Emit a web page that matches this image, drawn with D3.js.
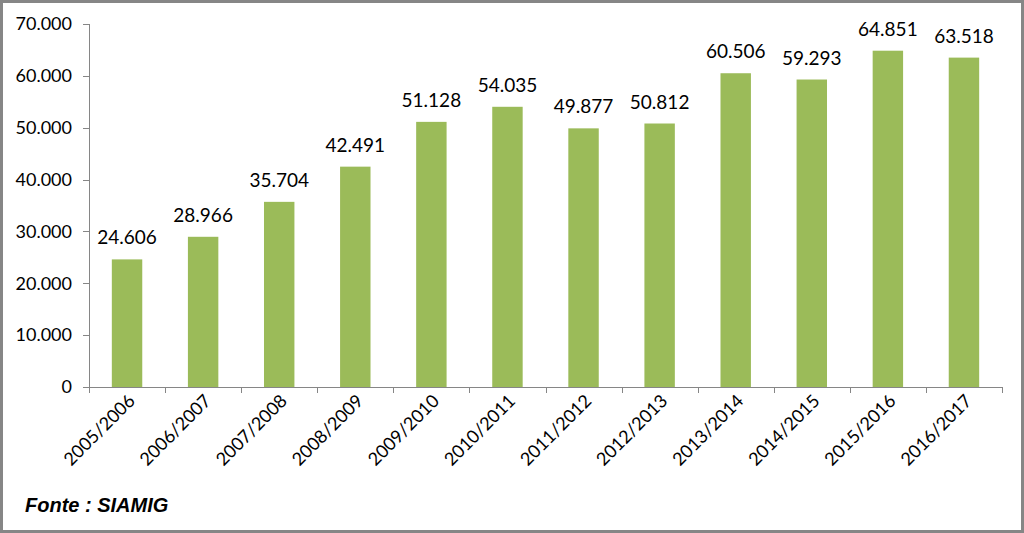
<!DOCTYPE html>
<html>
<head>
<meta charset="utf-8">
<script src="https://cdn.jsdelivr.net/npm/d3@7"></script>
<style>
  html, body { margin: 0; padding: 0; background: #fff; }
  svg { display: block; }
  text { font-family: Lato, "Open Sans", sans-serif; fill: #000; }
</style>
</head>
<body>
<div id="chart"></div>
<script>
'use strict';

// data
var seasons = ['2005/2006', '2006/2007', '2007/2008', '2008/2009', '2009/2010', '2010/2011',
               '2011/2012', '2012/2013', '2013/2014', '2014/2015', '2015/2016', '2016/2017'];
var values = [24606, 28966, 35704, 42491, 51128, 54035, 49877, 50812, 60506, 59293, 64851, 63518];
var yTicks = [0, 10000, 20000, 30000, 40000, 50000, 60000, 70000];

var outerWidth = 1024,
    outerHeight = 533,
    margin = {left: 89, right: 22, top: 24, bottom: 146},
    width = outerWidth - margin.left - margin.right,
    height = outerHeight - margin.top - margin.bottom;

var fmt = function (d) {
    return d === 0 ? '0' : d3.format(',')(d).replace(/,/g, '.');
};

var svg = d3.select('#chart').append('svg')
    .attr('width', outerWidth)
    .attr('height', outerHeight);

// outer frame
svg.append('rect')
    .attr('x', 1.5).attr('y', 1.5)
    .attr('width', outerWidth - 3).attr('height', outerHeight - 3)
    .attr('fill', '#fff')
    .attr('stroke', '#868686')
    .attr('stroke-width', 3);

var g = svg.append('g')
    .attr('transform', 'translate(' + margin.left + ',' + margin.top + ')');

var xScale = d3.scaleBand().domain(seasons).range([0, width]).paddingInner(0.6).paddingOuter(0.3);
var yScale = d3.scaleLinear().domain([0, 70000]).range([height, 0]);

// y axis
var yAxis = g.append('g').attr('class', 'yAxis');
yAxis.append('line')
    .attr('x1', 0.5).attr('x2', 0.5)
    .attr('y1', 0).attr('y2', height)
    .attr('stroke', '#868686');
yAxis.selectAll('line.tick').data(yTicks).enter().append('line')
    .attr('class', 'tick')
    .attr('x1', -6).attr('x2', 0)
    .attr('y1', function (d) { return Math.round(yScale(d)) + 0.5; })
    .attr('y2', function (d) { return Math.round(yScale(d)) + 0.5; })
    .attr('stroke', '#868686');
yAxis.selectAll('text').data(yTicks).enter().append('text')
    .attr('x', -17)
    .attr('y', function (d) { return yScale(d); })
    .attr('dy', '0.35em')
    .style('text-anchor', 'end')
    .style('font-size', '18px')
    .text(fmt);

// bars
g.selectAll('rect.bar').data(values).enter().append('rect')
    .attr('class', 'bar')
    .attr('x', function (d, i) { return xScale(seasons[i]); })
    .attr('y', function (d) { return yScale(d); })
    .attr('width', xScale.bandwidth())
    .attr('height', function (d) { return height - yScale(d); })
    .attr('fill', '#9bbb59');

// value labels
g.selectAll('text.value').data(values).enter().append('text')
    .attr('class', 'value')
    .attr('x', function (d, i) { return xScale(seasons[i]) + xScale.bandwidth() / 2; })
    .attr('y', function (d) { return yScale(d) - 15; })
    .style('text-anchor', 'middle')
    .style('font-size', '19px')
    .text(fmt);

// x axis
var xAxis = g.append('g').attr('class', 'xAxis')
    .attr('transform', 'translate(0,' + height + ')');
xAxis.append('line')
    .attr('x1', 0).attr('x2', width)
    .attr('y1', 0.5).attr('y2', 0.5)
    .attr('stroke', '#868686');
xAxis.selectAll('line.tick').data(d3.range(seasons.length + 1)).enter().append('line')
    .attr('class', 'tick')
    .attr('x1', function (i) { return Math.round(i * width / seasons.length) + 0.5; })
    .attr('x2', function (i) { return Math.round(i * width / seasons.length) + 0.5; })
    .attr('y1', 0).attr('y2', 6)
    .attr('stroke', '#868686');
xAxis.selectAll('text').data(seasons).enter().append('text')
    .attr('transform', function (d) {
        var cx = xScale(d) + xScale.bandwidth() / 2 + 9;
        return 'translate(' + cx + ',' + 15 + ') rotate(-45)';
    })
    .style('text-anchor', 'end')
    .style('font-size', '18px')
    .text(function (d) { return d; });

// source note
svg.append('text')
    .attr('x', 25)
    .attr('y', 512)
    .style('font-family', '"Liberation Sans", Arial, sans-serif')
    .style('font-weight', 'bold')
    .style('font-style', 'italic')
    .style('font-size', '20px')
    .text('Fonte : SIAMIG');
</script>
</body>
</html>
